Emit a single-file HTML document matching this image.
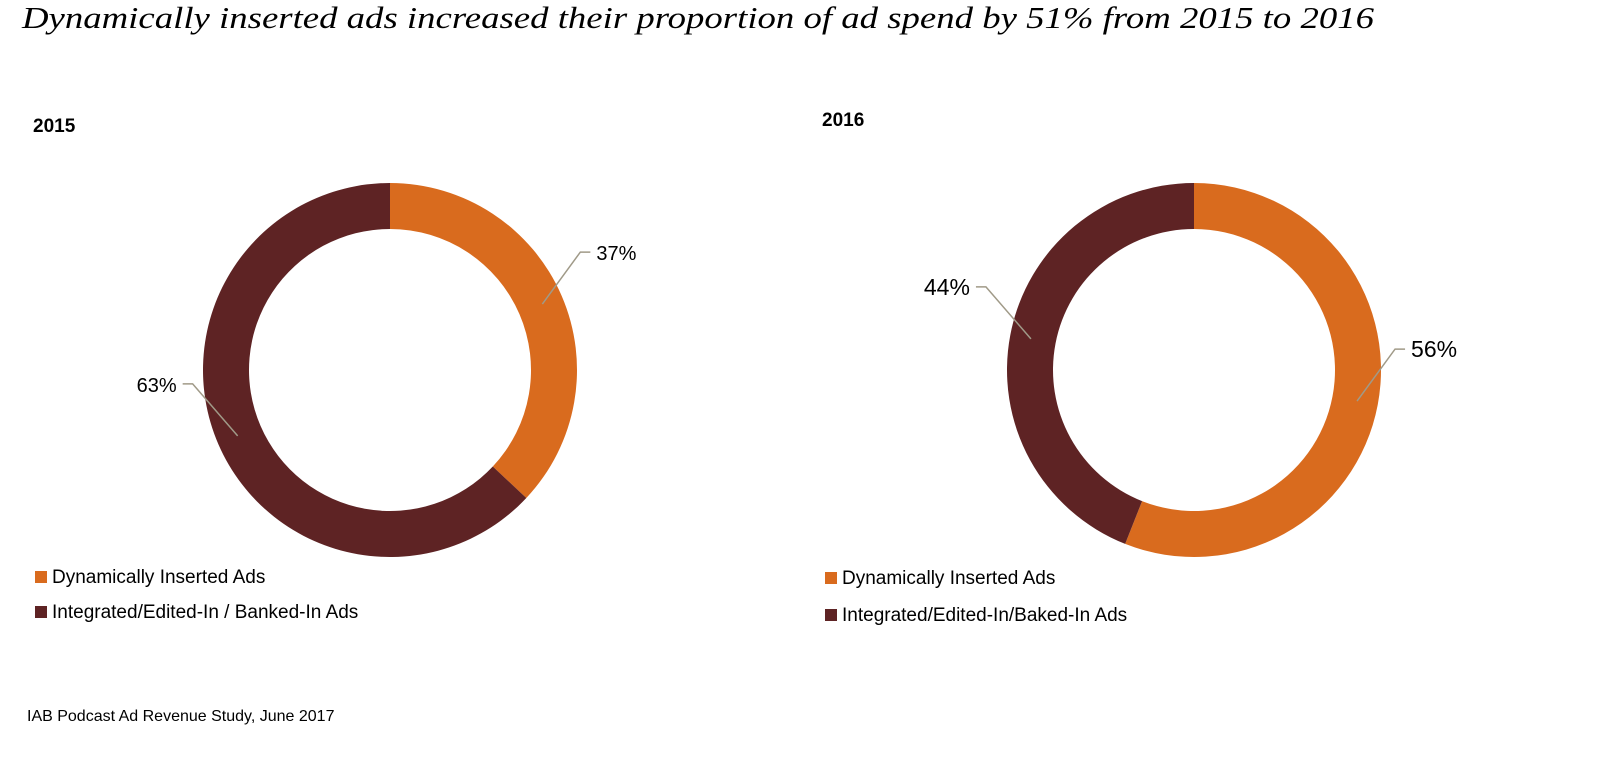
<!DOCTYPE html>
<html><head><meta charset="utf-8"><style>
html,body{margin:0;padding:0;background:#fff;}
svg{display:block;font-family:"Liberation Sans",Arial,sans-serif;}
</style></head><body>
<svg width="1600" height="760" viewBox="0 0 1600 760">
<text x="22" y="28" font-family="'Liberation Serif',serif" font-style="italic" font-size="31" fill="#000" textLength="1352" lengthAdjust="spacingAndGlyphs">Dynamically inserted ads increased their proportion of ad spend by 51% from 2015 to 2016</text>
<text x="33" y="132" font-size="19" font-weight="bold">2015</text>
<text x="822" y="126" font-size="19" font-weight="bold">2016</text>
<g id="donuts"></g>
<g>
<rect x="35" y="571" width="12" height="12" fill="#D96B1E"/>
<text x="52" y="583" font-size="19">Dynamically Inserted Ads</text>
<rect x="35" y="606" width="12" height="12" fill="#5E2324"/>
<text x="52" y="618" font-size="19">Integrated/Edited-In / Banked-In Ads</text>
</g>
<g>
<rect x="825" y="572" width="12" height="12" fill="#D96B1E"/>
<text x="842" y="584" font-size="19">Dynamically Inserted Ads</text>
<rect x="825" y="609" width="12" height="12" fill="#5E2324"/>
<text x="842" y="621" font-size="19">Integrated/Edited-In/Baked-In Ads</text>
</g>
<text x="27" y="721" font-size="16">IAB Podcast Ad Revenue Study, June 2017</text>
</svg>
<script>
const years = ["2015","2016"];
const dynamicShare = [37, 56];
const integratedShare = [63, 44];
const colors = ["#D96B1E","#5E2324"];
const centers = [[390,370],[1194,370]];
const labelSizes = [20, 23];
const R = 187, r = 141;
const NS = "http://www.w3.org/2000/svg";
const g = document.getElementById("donuts");
function pt(cx,cy,rad,frac){const a=frac*2*Math.PI;return [cx+rad*Math.sin(a),cy-rad*Math.cos(a)];}
function arc(cx,cy,f0,f1){
  const large=(f1-f0)>0.5?1:0;
  const [x0,y0]=pt(cx,cy,R,f0),[x1,y1]=pt(cx,cy,R,f1),[x2,y2]=pt(cx,cy,r,f1),[x3,y3]=pt(cx,cy,r,f0);
  return `M${x0},${y0}A${R},${R} 0 ${large} 1 ${x1},${y1}L${x2},${y2}A${r},${r} 0 ${large} 0 ${x3},${y3}Z`;
}
years.forEach((y,i)=>{
  const [cx,cy]=centers[i];
  const vals=[dynamicShare[i],integratedShare[i]];
  const tot=vals[0]+vals[1];
  let f=0;
  vals.forEach((v,j)=>{
    const p=document.createElementNS(NS,"path");
    p.setAttribute("d",arc(cx,cy,f/tot,(f+v)/tot));
    p.setAttribute("fill",colors[j]);
    
    
    g.appendChild(p);
    const mid=(f+v/2)/tot;
    const [ax,ay]=pt(cx,cy,(R+r)/2+2,mid);
    const right=Math.sin(mid*2*Math.PI)>0;
    const bx=ax+(right?38:-45);
    const by=ay-52;
    const ex=bx+(right?10:-10);
    const l=document.createElementNS(NS,"polyline");
    l.setAttribute("points",`${ax},${ay} ${bx},${by} ${ex},${by}`);
    l.setAttribute("fill","none");l.setAttribute("stroke","#A09A88");l.setAttribute("stroke-width","1.5");
    
    
    g.appendChild(l);
    const t=document.createElementNS(NS,"text");
    t.setAttribute("x",right?ex+6:ex-6);t.setAttribute("y",by+8);
    t.setAttribute("text-anchor",right?"start":"end");
    t.setAttribute("font-size",labelSizes[i]);
    t.textContent=v+"%";
    
    
    g.appendChild(t);
    f+=v;
  });
});
</script>
</body></html>
